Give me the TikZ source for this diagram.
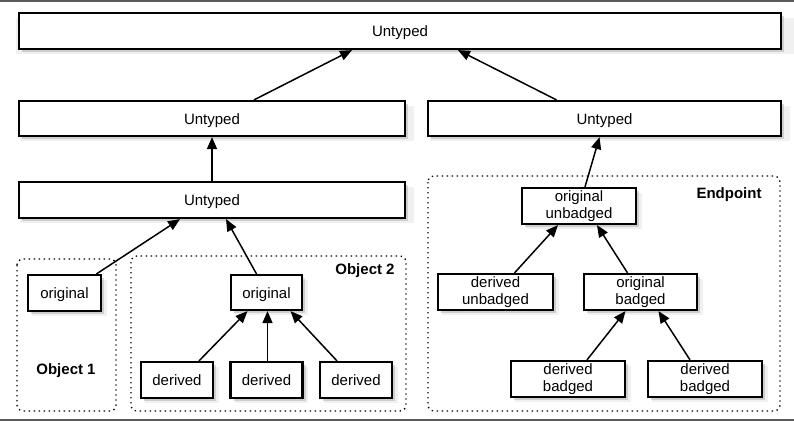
\documentclass[tikz,border=0pt]{standalone}
\usepackage{fontspec}
\setmainfont{Liberation Sans}
\usetikzlibrary{arrows.meta,shadows}
\definecolor{rule}{RGB}{90,90,90}

\tikzset{
  box/.style={draw, line width=2.2pt, fill=white, align=center, inner sep=0pt,
    minimum height=36pt,
    drop shadow={shadow xshift=5pt, shadow yshift=-5pt, shadow scale=1.02, opacity=0.12},
    drop shadow={shadow xshift=3pt, shadow yshift=-3pt, opacity=0.3}},
  oneline/.style={text height=14.5pt, text depth=3.2pt},
  group/.style={draw, line width=1.3pt, dash pattern=on 1.4pt off 3.6pt, rounded corners=6pt},
  link/.style={line width=1.5pt, -{Triangle[length=12pt,width=10pt]}},
  grouplabel/.style={font=\fontsize{15pt}{17.5pt}\bfseries}
}

\begin{document}
\begin{tikzpicture}[x=1pt, y=-1pt, font=\fontsize{15pt}{17.5pt}\selectfont]
    \useasboundingbox (0,0) rectangle (794,422);
    \draw[rule, line width=2pt] (0,1) -- (794,1);
    \draw[rule, line width=2pt] (0,420) -- (794,420);

    % groups
    \draw[group] (17,259) rectangle (116,411);
    \draw[group] (131,256) rectangle (406,411);
    \draw[group] (428,176) rectangle (780,411);
    \node[grouplabel] (obj1label) at (66,371) {Object 1};
    \node[grouplabel] (obj2label) at (365,271) {Object 2};
    \node[grouplabel] (endlabel) at (729,195) {Endpoint};

    % untyped layers
    \node[box, oneline, minimum width=762pt] (top) at (400,31) {Untyped};
    \node[box, oneline, minimum width=386pt, minimum height=35pt] (mleft) at (212,118.5) {Untyped};
    \node[box, oneline, minimum width=353pt, minimum height=35pt] (mright) at (604.5,118.5) {Untyped};
    \node[box, oneline, minimum width=386pt] (lower) at (212,200) {Untyped};

    % object 1 and object 2
    \node[box, oneline, minimum width=73pt] (oneorig) at (64.5,293) {original};
    \node[box, oneline, minimum width=71pt, minimum height=35pt] (twoorig) at (266.5,292.5) {original};
    \node[box, oneline, minimum width=72pt] (deriva) at (177,380) {derived};
    \node[box, oneline, minimum width=72pt] (derivb) at (266.5,380) {derived};
    \node[box, oneline, minimum width=72pt] (derivc) at (356,380) {derived};

    % endpoint
    \node[box, minimum width=114pt] (origunb) at (579,206) {original\\unbadged};
    \node[box, minimum width=115pt] (derunb) at (495.5,292) {derived\\unbadged};
    \node[box, minimum width=113pt] (origbad) at (640.5,292) {original\\badged};
    \node[box, minimum width=114pt] (derbada) at (568,379) {derived\\badged};
    \node[box, minimum width=114pt] (derbadb) at (705,379) {derived\\badged};

    \draw[link] ([xshift=42pt]mleft.north) -- ([xshift=-48pt]top.south);
    \draw[link] ([xshift=-48pt]mright.north) -- ([xshift=58pt]top.south);
    \draw[link] (lower.north) -- (mleft.south);
    \draw[link] ([xshift=32pt]oneorig.north) -- ([xshift=-32pt]lower.south);
    \draw[link] ([xshift=-10pt]twoorig.north) -- ([xshift=14pt]lower.south);
    \draw[link] ([xshift=6pt]origunb.north) -- ([xshift=-5pt]mright.south);
    \draw[link] ([xshift=22pt]deriva.north) -- ([xshift=-19pt]twoorig.south);
    \draw[link] ([xshift=1pt]derivb.north) -- ([xshift=1pt]twoorig.south);
    \draw[link] ([xshift=-19pt]derivc.north) -- ([xshift=24pt]twoorig.south);
    \draw[link] ([xshift=19pt]derunb.north) -- ([xshift=-21pt]origunb.south);
    \draw[link] ([xshift=-13pt]origbad.north) -- ([xshift=18pt]origunb.south);
    \draw[link] ([xshift=19pt]derbada.north) -- ([xshift=-15pt]origbad.south);
    \draw[link] ([xshift=-15pt]derbadb.north) -- ([xshift=18pt]origbad.south);
\end{tikzpicture}
\end{document}
